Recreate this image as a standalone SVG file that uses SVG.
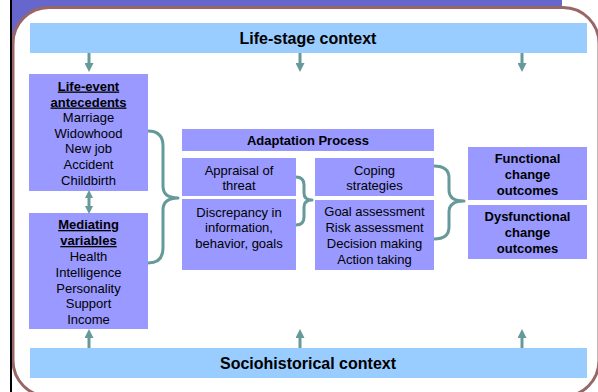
<svg xmlns="http://www.w3.org/2000/svg" width="598" height="392" viewBox="0 0 598 392">
  <defs>
    <style>
      .box { fill: #9999ff; }
      .band { fill: #99ccff; }
      text { font-family: "Liberation Sans", Arial, sans-serif; fill: #000; text-anchor: middle; }
      .t { font-size: 13px; }
      .b { font-size: 13px; font-weight: bold; }
      .big { font-size: 16px; font-weight: bold; }
      .u { text-decoration: underline; }
      .arrow { stroke: #669999; stroke-width: 3; fill: none; }
      .brace { stroke: #669999; stroke-width: 3; fill: none; stroke-linejoin: round; stroke-linecap: butt; }
    </style>
    <marker id="ah" viewBox="0 0 10 10" refX="0" refY="5" markerWidth="9" markerHeight="9" markerUnits="userSpaceOnUse" orient="auto-start-reverse">
      <path d="M0,0 L10,5 L0,10 Z" fill="#669999"/>
    </marker>
    <marker id="ahs" viewBox="0 0 10 10" refX="0" refY="5" markerWidth="8" markerHeight="8" markerUnits="userSpaceOnUse" orient="auto-start-reverse">
      <path d="M0,0 L10,5 L0,10 Z" fill="#669999"/>
    </marker>
  </defs>

  <!-- slide frame -->
  <rect x="0" y="0" width="598" height="392" fill="#ffffff"/>
  <rect x="12" y="0" width="550" height="44" fill="#6666cc"/>
  <rect x="13" y="7.5" width="586" height="389" rx="36" ry="36" fill="#ffffff" stroke="#996666" stroke-width="3"/>
  <rect x="10" y="0" width="2" height="392" fill="#000000"/>

  <!-- context bands -->
  <g id="life-stage">
    <rect class="band" x="30" y="23" width="557" height="30"/>
    <text class="big" x="308" y="44">Life-stage context</text>
  </g>
  <g id="sociohistorical">
    <rect class="band" x="30" y="348" width="557" height="30"/>
    <text class="big" x="308" y="369">Sociohistorical context</text>
  </g>

  <!-- left column -->
  <g id="antecedents">
    <rect class="box" x="29" y="74" width="119" height="117"/>
    <text class="b u" x="88.5" y="90.5">Life-event</text>
    <text class="b u" x="88.5" y="106.5">antecedents</text>
    <text class="t" x="88.5" y="121.5">Marriage</text>
    <text class="t" x="88.5" y="137.5">Widowhood</text>
    <text class="t" x="88.5" y="153">New job</text>
    <text class="t" x="88.5" y="168.5">Accident</text>
    <text class="t" x="88.5" y="184.5">Childbirth</text>
  </g>
  <g id="mediating">
    <rect class="box" x="29" y="213" width="119" height="116"/>
    <text class="b u" x="88.5" y="229">Mediating</text>
    <text class="b u" x="88.5" y="245">variables</text>
    <text class="t" x="88.5" y="261">Health</text>
    <text class="t" x="88.5" y="277">Intelligence</text>
    <text class="t" x="88.5" y="292.5">Personality</text>
    <text class="t" x="88.5" y="308">Support</text>
    <text class="t" x="88.5" y="324">Income</text>
  </g>

  <!-- adaptation process -->
  <g id="adaptation">
    <rect class="box" x="182" y="129" width="252" height="22"/>
    <text class="b" x="308" y="145">Adaptation Process</text>
  </g>
  <g id="appraisal">
    <rect class="box" x="182" y="158" width="114" height="38"/>
    <text class="t" x="239" y="174.5">Appraisal of</text>
    <text class="t" x="239" y="190">threat</text>
  </g>
  <g id="discrepancy">
    <rect class="box" x="182" y="199" width="114" height="71"/>
    <text class="t" x="239" y="216.5">Discrepancy in</text>
    <text class="t" x="239" y="232">information,</text>
    <text class="t" x="239" y="248">behavior, goals</text>
  </g>
  <g id="coping">
    <rect class="box" x="315" y="158" width="119" height="38"/>
    <text class="t" x="374.5" y="174.5">Coping</text>
    <text class="t" x="374.5" y="190">strategies</text>
  </g>
  <g id="actions">
    <rect class="box" x="315" y="200" width="119" height="70"/>
    <text class="t" x="374.5" y="216">Goal assessment</text>
    <text class="t" x="374.5" y="232">Risk assessment</text>
    <text class="t" x="374.5" y="248">Decision making</text>
    <text class="t" x="374.5" y="264">Action taking</text>
  </g>

  <!-- outcomes -->
  <g id="functional">
    <rect class="box" x="468" y="147" width="119" height="53"/>
    <text class="b" x="527.5" y="163">Functional</text>
    <text class="b" x="527.5" y="179">change</text>
    <text class="b" x="527.5" y="195">outcomes</text>
  </g>
  <g id="dysfunctional">
    <rect class="box" x="468" y="205" width="119" height="54"/>
    <text class="b" x="527.5" y="221">Dysfunctional</text>
    <text class="b" x="527.5" y="237">change</text>
    <text class="b" x="527.5" y="253">outcomes</text>
  </g>

  <!-- connectors -->
  <g id="connectors">
    <line class="arrow" x1="89" y1="53" x2="89" y2="63" marker-end="url(#ah)"/>
    <line class="arrow" x1="300" y1="53" x2="300" y2="63" marker-end="url(#ah)"/>
    <line class="arrow" x1="522" y1="53" x2="522" y2="63" marker-end="url(#ah)"/>

    <line class="arrow" x1="89" y1="348" x2="89" y2="338" marker-end="url(#ah)"/>
    <line class="arrow" x1="300" y1="348" x2="300" y2="338" marker-end="url(#ah)"/>
    <line class="arrow" x1="522" y1="348" x2="522" y2="338" marker-end="url(#ah)"/>

    <line class="arrow" x1="89" y1="198" x2="89" y2="206" marker-start="url(#ahs)" marker-end="url(#ahs)"/>

    <path class="brace" d="M148,131 Q163,131 163,146 V186 Q163,198 178,198 Q163,198 163,210 V248 Q163,263 148,263"/>
    <path class="brace" d="M296,177 Q304,177 304,185 V193 Q304,200 312,200 Q304,200 304,207 V217 Q304,225 296,225"/>
    <path class="brace" d="M434,166 Q449,166 449,178 V190 Q449,201 464,201 Q449,201 449,212 V227 Q449,239 434,239"/>
  </g>
</svg>
